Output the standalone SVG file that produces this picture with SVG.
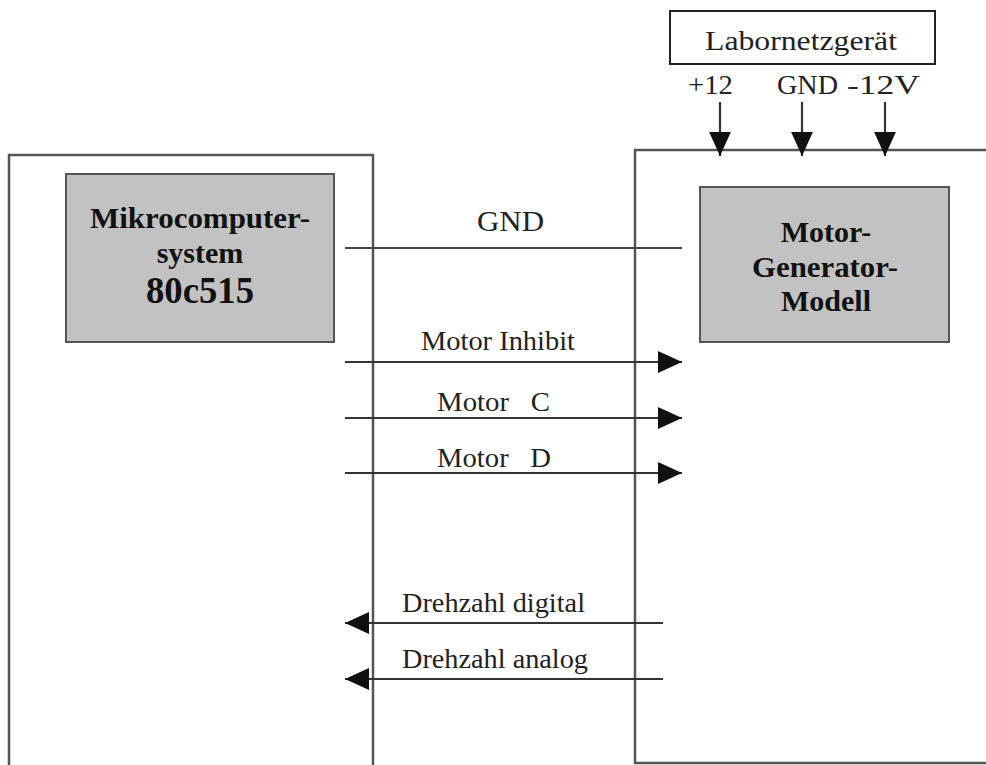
<svg xmlns="http://www.w3.org/2000/svg" width="986" height="765" viewBox="0 0 986 765">
<defs>
<marker id="ah" markerUnits="userSpaceOnUse" markerWidth="24" markerHeight="22" viewBox="0 0 22 20" refX="22" refY="10" orient="auto">
<path d="M0,0 L22,10 L0,20 Z" fill="#111"/>
</marker>
<style>
.frame{fill:none;stroke:#555;stroke-width:2.5}
.gbox{fill:#c2c2c2;stroke:#555;stroke-width:2}
.pbox{fill:#fff;stroke:#222;stroke-width:2}
.wire{fill:none;stroke:#444;stroke-width:2.2}
.arr{fill:none;stroke:#333;stroke-width:2.2;marker-end:url(#ah)}
.lbl{font-family:"Liberation Serif","Times New Roman",serif;font-size:28px;fill:#222;white-space:pre}
.bold{font-family:"Liberation Serif","Times New Roman",serif;font-size:30px;font-weight:bold;fill:#111;text-anchor:middle}
</style>
</defs>
<rect width="986" height="765" fill="#fff"/>

<g id="mikrocomputer-frame">
<path class="frame" d="M9,766 V155 H373 V766"/>
</g>
<g id="motor-frame">
<path class="frame" d="M987,150 H635 V763 H987"/>
</g>

<g id="mikrocomputer">
<rect class="gbox" x="66" y="174" width="268" height="168"/>
<text class="bold" x="200" y="228" textLength="220" lengthAdjust="spacingAndGlyphs">Mikrocomputer-</text>
<text class="bold" x="200" y="263">system</text>
<text class="bold" x="200" y="303" style="font-size:37px" textLength="108" lengthAdjust="spacingAndGlyphs">80c515</text>
</g>

<g id="motor-generator">
<rect class="gbox" x="700" y="187" width="249" height="155"/>
<text class="bold" x="826" y="242">Motor-</text>
<text class="bold" x="825" y="277" textLength="146" lengthAdjust="spacingAndGlyphs">Generator-</text>
<text class="bold" x="826" y="311">Modell</text>
</g>

<g id="labornetzgeraet">
<rect class="pbox" x="670" y="11" width="265" height="53"/>
<text class="lbl" x="705" y="50" textLength="192" lengthAdjust="spacingAndGlyphs">Labornetzgerät</text>
</g>

<g id="connectors">
<text class="lbl" x="688" y="94" textLength="45" lengthAdjust="spacingAndGlyphs">+12</text>
<text class="lbl" x="777" y="94" textLength="61" lengthAdjust="spacingAndGlyphs">GND</text>
<text class="lbl" x="847" y="94" textLength="73" lengthAdjust="spacingAndGlyphs">-12V</text>
<line class="arr" x1="720" y1="102" x2="720" y2="156"/>
<line class="arr" x1="802" y1="102" x2="802" y2="156"/>
<line class="arr" x1="885" y1="102" x2="885" y2="156"/>

<line class="wire" x1="345" y1="248" x2="682" y2="248"/>
<text class="lbl" x="477" y="231" style="font-size:30px" textLength="67" lengthAdjust="spacingAndGlyphs">GND</text>

<line class="arr" x1="345" y1="362" x2="682" y2="362"/>
<text class="lbl" x="421" y="350" textLength="154" lengthAdjust="spacingAndGlyphs">Motor Inhibit</text>

<line class="arr" x1="345" y1="418" x2="682" y2="418"/>
<text class="lbl" x="437" y="411" textLength="113" lengthAdjust="spacingAndGlyphs">Motor   C</text>

<line class="arr" x1="345" y1="473" x2="682" y2="473"/>
<text class="lbl" x="437" y="467" textLength="114" lengthAdjust="spacingAndGlyphs">Motor   D</text>

<line class="arr" x1="663" y1="623" x2="345" y2="623"/>
<text class="lbl" x="402" y="612" textLength="183" lengthAdjust="spacingAndGlyphs">Drehzahl digital</text>

<line class="arr" x1="663" y1="679" x2="345" y2="679"/>
<text class="lbl" x="402" y="668" textLength="186" lengthAdjust="spacingAndGlyphs">Drehzahl analog</text>
</g>
</svg>
